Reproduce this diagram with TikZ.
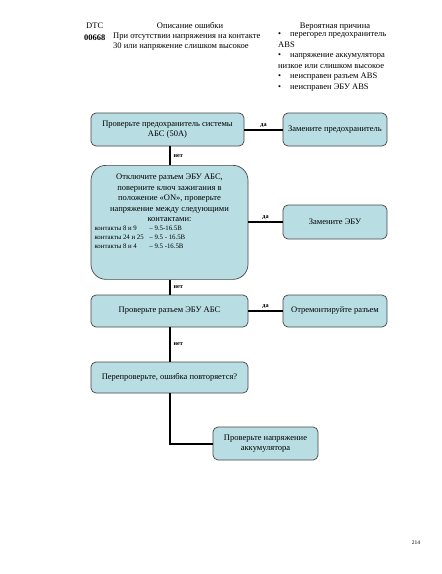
\documentclass[tikz,border=0pt]{standalone}
\usepackage{fontspec}
\setmainfont{Liberation Serif}
\usepackage{tikz}

\definecolor{boxfill}{RGB}{184,222,228}
\definecolor{boxline}{RGB}{70,70,70}

\tikzset{
  stepbox/.style={draw=boxline, fill=boxfill, rounded corners=5pt, line width=0.7pt,
    align=center, font=\fontsize{8.5}{10.5}\selectfont, inner sep=2pt},
  link/.style={line width=2pt, black},
  answer/.style={font=\fontsize{6.2}{7}\selectfont\bfseries, inner sep=1pt},
  head/.style={font=\fontsize{8.5}{10.5}\selectfont, inner sep=0pt}
}

\begin{document}
\begin{tikzpicture}[x=1pt,y=-1pt]
  \useasboundingbox[fill=white] (0,0) rectangle (442,574);

  % table header
  \node[head, anchor=base west] (dtc) at (86,28) {DTC};
  \node[head, anchor=base west, font=\fontsize{8.5}{10.5}\selectfont\bfseries] (code) at (84,40) {00668};
  \node[head, anchor=base] (opis) at (190,28) {Описание ошибки};
  \node[head, anchor=north west, align=left] (desc) at (113,32.5)
    {При отсутствии напряжения на контакте\\30 или напряжение слишком высокое};
  \node[head, anchor=base] (prich) at (335,28) {Вероятная причина};
  \node[head, anchor=north west, align=left] (causes) at (278,32.5)
    {\makebox[12pt][l]{•}перегорел предохранитель\\ABS\\
     \makebox[12pt][l]{•}напряжение аккумулятора\\низкое или слишком высокое\\
     \makebox[12pt][l]{•}неисправен разъем ABS\\
     \makebox[12pt][l]{•}неисправен ЭБУ ABS};

  % main column
  \node[stepbox, minimum width=153pt, minimum height=33pt] (fuse) at (167.5,129.5)
    {Проверьте предохранитель системы\\АБС (50А)};
  \node[stepbox, minimum width=157pt, minimum height=114pt, rounded corners=15pt,
    anchor=north] (ecu) at (169.5,165)
    {\begin{minipage}[t][106pt][t]{150pt}
      \vspace*{5pt}
      \centering Отключите разъем ЭБУ АБС,\\поверните ключ зажигания в\\
      положение «ON», проверьте\\напряжение между следующими\\контактами:\par
      \raggedright\fontsize{6.8}{9}\selectfont
      \makebox[55pt][l]{контакты 8 и 9}– 9.5-16.5В\\
      \makebox[55pt][l]{контакты 24 и  25}– 9.5 - 16.5В\\
      \makebox[55pt][l]{контакты 8  и 4}– 9.5 -16.5В
    \end{minipage}};
  \node[stepbox, minimum width=157pt, minimum height=32pt] (plug) at (169.5,311)
    {Проверьте разъем ЭБУ АБС};
  \node[stepbox, minimum width=157pt, minimum height=31pt] (recheck) at (169.5,377.5)
    {Перепроверьте, ошибка повторяется?};
  \node[stepbox, minimum width=105pt, minimum height=33pt] (batt) at (265.5,443.5)
    {Проверьте напряжение\\аккумулятора};

  % right column
  \node[stepbox, minimum width=104pt, minimum height=33pt] (newfuse) at (335,129.5)
    {Замените предохранитель};
  \node[stepbox, minimum width=104pt, minimum height=34pt] (newecu) at (335,222)
    {Замените ЭБУ};
  \node[stepbox, minimum width=104pt, minimum height=32pt] (fixplug) at (335,311)
    {Отремонтируйте разъем};

  % connectors
  \draw[link] (fuse.east) -- node[answer, above] {да} (newfuse.west);
  \draw[link] (ecu.east |- newecu.west) -- node[answer, above] {да} (newecu.west);
  \draw[link] (plug.east) -- node[answer, above] {да} (fixplug.west);
  \draw[link] (fuse.south -| ecu.north) -- node[answer, right, xshift=2pt] {нет} (ecu.north);
  \draw[link] (ecu.south) -- node[answer, right, xshift=2pt] {нет} (plug.north);
  \draw[link] (plug.south) -- node[answer, right, xshift=2pt] {нет} (recheck.north);
  \draw[link] (recheck.south) |- (batt.west);

  % page number
  \node[font=\fontsize{5.5}{6}\selectfont, inner sep=0pt] (page) at (416,543) {214};
\end{tikzpicture}
\end{document}
